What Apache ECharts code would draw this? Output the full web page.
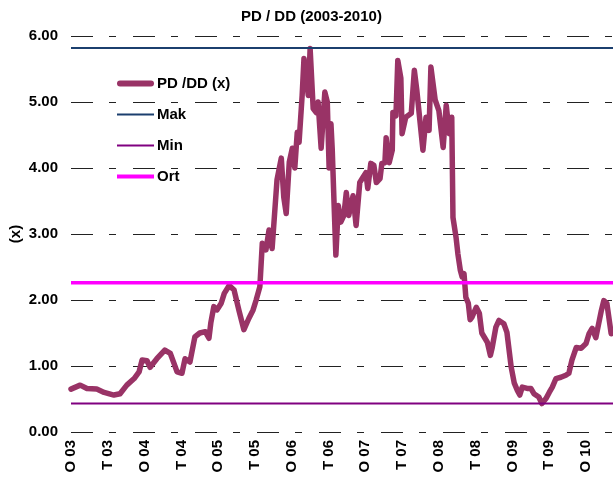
<!DOCTYPE html>
<html>
<head>
<meta charset="utf-8">
<script src="https://cdn.jsdelivr.net/npm/echarts@6/dist/echarts.min.js"></script>
<style>
  html, body { margin: 0; padding: 0; background: #fff; }
  #chart { width: 613px; height: 479px; }
</style>
</head>
<body>
<div id="chart"></div>
<script>
// months since Jan 2003 (O 03 = 0, T 03 = 6, ...)
const month = [
  0, 1.5, 2.6, 4.2, 5.4, 7.0, 8.0, 9.1, 10.3, 11.1, 11.6, 12.4, 12.9, 14.0, 15.3, 16.2,
  16.8, 17.3, 18.1, 18.6, 19.4, 20.2, 21.0, 21.9, 22.5, 22.8, 23.3, 23.8, 24.5, 25.0,
  25.8, 26.6, 27.4, 28.2, 29.0, 29.7, 30.2, 30.8, 31.2, 31.8, 32.3, 32.8, 33.6, 34.3,
  34.7, 35.1, 35.6, 36.1, 36.5, 36.9, 37.2, 37.7, 38.0, 38.3, 38.7, 39.0, 39.3, 39.5,
  40.0, 40.3, 40.8, 40.9, 41.4, 41.8, 42.1, 42.4, 42.6, 42.9, 43.2, 43.6, 44.0, 44.5,
  44.9, 45.3, 46.0, 46.5, 46.8, 47.1, 47.5, 48.1, 48.4, 48.9, 49.4, 49.8, 50.4, 50.7,
  51.2, 51.4, 51.9, 52.4, 52.5, 53.0, 53.3, 53.8, 54.0, 54.6, 55.5, 56.0, 56.4, 57.4,
  57.9, 58.4, 58.7, 59.4, 60.0, 60.7, 61.2, 61.7, 62.1, 62.3, 62.8, 63.1, 63.5, 63.8,
  64.1, 64.4, 64.8, 65.1, 65.4, 66.1, 66.6, 67.0, 67.9, 68.4, 68.7, 69.3, 69.8, 70.6,
  71.1, 71.8, 72.3, 72.8, 73.2, 73.6, 74.4, 75.0, 75.5, 76.3, 76.8, 77.5, 78.0, 78.5,
  79.1, 79.9, 80.7, 81.2, 81.7, 82.4, 83.2, 84.0, 84.5, 85.0, 85.6, 86.5, 86.9, 87.4, 88.1
];
const pddd = [
  0.65, 0.71, 0.66, 0.65, 0.60, 0.56, 0.58, 0.71, 0.81, 0.91, 1.09, 1.08, 0.98, 1.11, 1.24, 1.19,
  1.04, 0.91, 0.89, 1.11, 1.06, 1.44, 1.50, 1.52, 1.42, 1.65, 1.90, 1.85, 1.95, 2.10,
  2.22, 2.15, 1.84, 1.55, 1.72, 1.85, 2.00, 2.20, 2.86, 2.76, 3.06, 2.78, 3.82, 4.15,
  3.56, 3.31, 4.09, 4.30, 4.00, 4.54, 4.39, 5.10, 5.66, 5.68, 5.10, 5.81, 5.81, 4.90,
  4.84, 5.00, 4.30, 4.27, 5.15, 5.00, 4.00, 4.67, 4.30, 3.48, 2.68, 3.43, 3.18, 3.28,
  3.63, 3.28, 3.58, 3.13, 3.10, 3.78, 3.84, 3.93, 3.69, 4.07, 4.04, 3.78, 3.84, 4.07,
  4.08, 4.46, 4.08, 4.27, 4.84, 4.79, 5.63, 5.36, 4.52, 4.77, 4.83, 5.48, 5.18, 4.27,
  4.77, 4.57, 5.53, 5.03, 4.87, 4.31, 4.95, 4.52, 4.77, 3.25, 2.95, 2.70, 2.45, 2.35,
  2.40, 2.04, 1.95, 1.70, 1.74, 1.89, 1.80, 1.50, 1.36, 1.16, 1.28, 1.59, 1.69, 1.64,
  1.51, 0.98, 0.74, 0.63, 0.56, 0.68, 0.66, 0.66, 0.58, 0.53, 0.43, 0.51, 0.60, 0.68,
  0.81, 0.83, 0.86, 0.89, 1.09, 1.28, 1.27, 1.34, 1.49, 1.57, 1.43, 1.84, 1.99, 1.95, 1.49
];
const makVal = 5.82;
const minVal = 0.43;
const ortVal = 2.26;
const tickLabels = ['O 03', 'T 03', 'O 04', 'T 04', 'O 05', 'T 05', 'O 06', 'T 06',
  'O 07', 'T 07', 'O 08', 'T 08', 'O 09', 'T 09', 'O 10'];
const xMax = 88.4;

const font = 'Liberation Sans, Arial, sans-serif';
const chart = echarts.init(document.getElementById('chart'), null, { renderer: 'canvas' });

const flat = (v) => [[0, v], [xMax, v]];
// legend line icons of different thickness
const bar = (h) => 'path://M0,0 L37,0 L37,' + h + ' L0,' + h + ' Z';

chart.setOption({
  animation: false,
  backgroundColor: '#fff',
  title: {
    text: 'PD / DD (2003-2010)',
    left: 241,
    top: 9,
    padding: 0,
    textStyle: { fontFamily: font, fontSize: 15, fontWeight: 'bold', color: '#000' }
  },
  legend: {
    orient: 'vertical',
    left: 117,
    top: 76,
    padding: 0,
    itemWidth: 37,
    itemHeight: 14,
    itemGap: 16,
    data: [
      { name: 'PD /DD (x)', icon: 'path://M3,0 L34,0 A3,3 0 0 1 34,6 L3,6 A3,3 0 0 1 3,0 Z' },
      { name: 'Mak', icon: bar(2) },
      { name: 'Min', icon: bar(2) },
      { name: 'Ort', icon: bar(4) }
    ],
    textStyle: { fontFamily: font, fontSize: 15, fontWeight: 'bold', color: '#000', padding: [0, 0, 0, -2] }
  },
  grid: { left: 71, right: 0, top: 36, bottom: 47, outerBoundsMode: 'none', containLabel: false },
  xAxis: {
    type: 'value',
    min: 0,
    max: xMax,
    interval: 6,
    axisLine: { show: false },
    axisTick: { show: false },
    splitLine: { show: false },
    axisLabel: {
      rotate: 90,
      margin: 8,
      showMaxLabel: false,
      fontFamily: font,
      fontSize: 15,
      fontWeight: 'bold',
      color: '#000',
      formatter: (v) => (v % 6 === 0 ? (tickLabels[v / 6] || '') : '')
    }
  },
  yAxis: {
    type: 'value',
    min: 0,
    max: 6,
    interval: 1,
    name: '(x)',
    nameLocation: 'middle',
    nameGap: 48,
    nameMoveOverlap: false,
    nameTextStyle: { fontFamily: font, fontSize: 15, fontWeight: 'bold', color: '#000' },
    axisLine: { show: false },
    axisTick: { show: false },
    axisLabel: {
      margin: 13,
      fontFamily: font,
      fontSize: 15,
      fontWeight: 'bold',
      color: '#000',
      formatter: (v) => v.toFixed(2)
    },
    splitLine: {
      show: true,
      lineStyle: { color: '#222', width: 1, type: [22, 16, 7, 17] }
    }
  },
  series: [
    {
      name: 'PD /DD (x)',
      type: 'line',
      data: month.map((m, i) => [m, pddd[i]]),
      showSymbol: false,
      symbol: 'none',
      color: '#993366',
      lineStyle: { color: '#993366', width: 5.5, cap: 'round', join: 'round' }
    },
    {
      name: 'Mak',
      type: 'line',
      data: flat(makVal),
      symbol: 'none',
      color: '#1B3F6E',
      lineStyle: { color: '#1B3F6E', width: 2 }
    },
    {
      name: 'Min',
      type: 'line',
      data: flat(minVal),
      symbol: 'none',
      color: '#800080',
      lineStyle: { color: '#800080', width: 2 }
    },
    {
      name: 'Ort',
      type: 'line',
      data: flat(ortVal),
      symbol: 'none',
      color: '#FF00FF',
      lineStyle: { color: '#FF00FF', width: 3.5 }
    }
  ]
});
</script>
</body>
</html>
